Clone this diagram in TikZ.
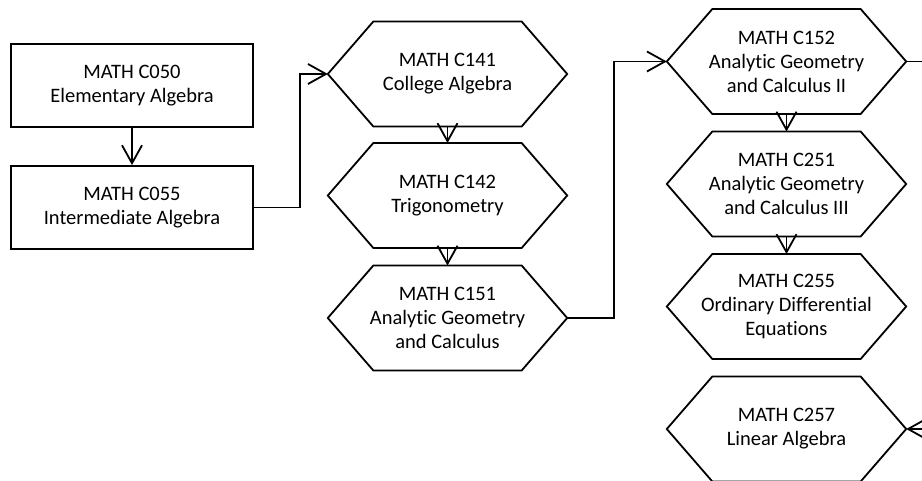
\documentclass[tikz,border=0pt]{standalone}
\usepackage{fontspec}
\setmainfont{Carlito}[Ligatures=NoCommon]
\usetikzlibrary{arrows.meta}
\newcommand\hexoutline[1]{%
  \draw[lw, line join=miter] (#1.west) -- ([xshift=45.5pt]#1.north west) -- ([xshift=-45.5pt]#1.north east) -- (#1.east) -- ([xshift=-45.5pt]#1.south east) -- ([xshift=45.5pt]#1.south west) -- cycle;}
\begin{document}
\begin{tikzpicture}[x=1pt,y=-1pt,
  lw/.style={line width=1.8pt},
  txt/.style={align=center, font=\fontsize{20.5}{24}\selectfont},
  rectbox/.style={txt, draw, lw, minimum width=242pt, minimum height=83pt, inner sep=0pt},
  hexbox/.style={txt, minimum width=239pt, minimum height=104.5pt, inner sep=0pt},
  conn/.style={lw, -{Straight Barb[length=18pt,width=20pt]}},
]
\useasboundingbox (0,0) rectangle (922,481);
\clip (0,0) rectangle (922,481);
\fill[white] (0,0) rectangle (922,481);

\node[rectbox] (c050) at (132,85.5) {MATH C050\\Elementary Algebra};
\node[rectbox] (c055) at (132,207.5) {MATH C055\\Intermediate Algebra};

\node[hexbox] (c141) at (447.5,74) {MATH C141\\College Algebra};
\node[hexbox] (c142) at (447.5,195.5) {MATH C142\\Trigonometry};
\node[hexbox] (c151) at (447.5,318) {MATH C151\\Analytic Geometry\\and Calculus};

\node[hexbox] (c152) at (786.5,61.5) {MATH C152\\Analytic Geometry\\and Calculus II};
\node[hexbox] (c251) at (786.5,184) {MATH C251\\Analytic Geometry\\and Calculus III};
\node[hexbox] (c255) at (786.5,306.5) {MATH C255\\Ordinary Differential\\Equations};
\node[hexbox] (c257) at (786.5,429) {MATH C257\\Linear Algebra};

\hexoutline{c141}
\hexoutline{c142}
\hexoutline{c151}
\hexoutline{c152}
\hexoutline{c251}
\hexoutline{c255}
\hexoutline{c257}

\draw[conn] (c050.south) -- (c055.north);
\draw[conn] (c055.east) -- ++(46,0) |- (c141.west);
\draw[conn] (c141.south) -- (c142.north);
\draw[conn] (c142.south) -- (c151.north);
\draw[conn] (c151.east) -- ++(47,0) |- (c152.west);
\draw[conn] (c152.south) -- (c251.north);
\draw[conn] (c251.south) -- (c255.north);
\draw[conn] (c152.east) -- ++(40,0) |- (c257.east);
\end{tikzpicture}
\end{document}
